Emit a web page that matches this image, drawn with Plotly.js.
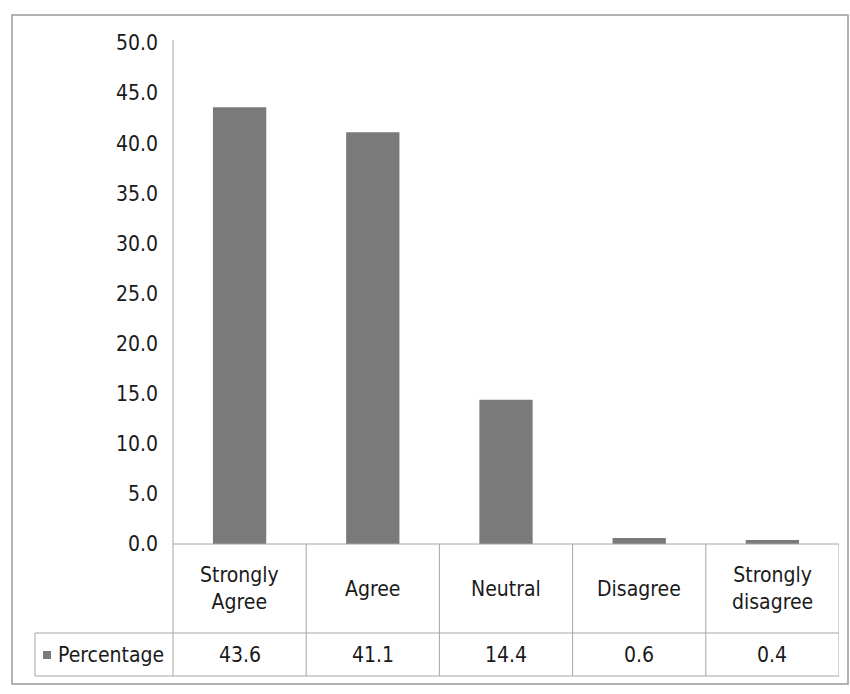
<!DOCTYPE html>
<html>
<head>
<meta charset="utf-8">
<script src="https://cdn.plot.ly/plotly-3.0.1.min.js"></script>
<style>
html,body{margin:0;padding:0;background:#fff;}
#chart{width:850px;height:694px;}
</style>
</head>
<body>
<div id="chart"></div>
<script>
// ---- data ----
var categories = ["Strongly Agree", "Agree", "Neutral", "Disagree", "Strongly disagree"];
var categoryLabels = ["Strongly<br>Agree", "Agree", "Neutral", "Disagree", "Strongly<br>disagree"];
var percentage = [43.6, 41.1, 14.4, 0.6, 0.4];
var seriesName = "Percentage";
var yTickValues = [0, 5, 10, 15, 20, 25, 30, 35, 40, 45, 50];

// ---- layout geometry (pixels) ----
var W = 850, H = 694;
var M = {l: 173, r: 11, t: 43, b: 150};
var plotW = W - M.l - M.r, plotH = H - M.t - M.b;
function px(x) { return (x - M.l) / plotW; }          // pixel x -> paper x
function py(y) { return (H - M.b - y) / plotH; }      // pixel y -> paper y

var FONT = "'Liberation Sans Narrow', 'Arial Narrow', 'DejaVu Sans Condensed', sans-serif";
var barColor = "#7a7a7a";
var lineColor = "#a6a6a6";

var tableTop = 544, rowDiv = 633, tableBottom = 676, legendLeft = 35;

var shapes = [];
function line(xref, x0, x1, y0, y1) {
  shapes.push({type: "line", xref: xref, yref: "paper", x0: x0, x1: x1, y0: y0, y1: y1,
    line: {color: lineColor, width: 1}});
}
// outer border
shapes.push({type: "rect", xref: "paper", yref: "paper", x0: px(12), x1: px(848), y0: py(684), y1: py(15),
  line: {color: "#9a9a9a", width: 1.5}, fillcolor: "rgba(0,0,0,0)"});
// y axis line
line("paper", 0, 0, py(40), py(tableBottom));
// table horizontal lines
line("paper", 0, 1, py(tableTop), py(tableTop));
line("paper", px(legendLeft), 1, py(rowDiv), py(rowDiv));
line("paper", px(legendLeft), 1, py(tableBottom), py(tableBottom));
// legend cell left edge
line("paper", px(legendLeft), px(legendLeft), py(rowDiv), py(tableBottom));
// column separators
for (var i = 0; i < categories.length; i++) {
  line("x", i + 0.5, i + 0.5, py(tableTop), py(tableBottom));
}
// legend key square
shapes.push({type: "rect", xref: "paper", yref: "paper", x0: px(43), x1: px(51), y0: py(659), y1: py(651),
  fillcolor: barColor, line: {width: 0}});

var annotations = [];
var rowMid1 = py((tableTop + rowDiv) / 2), rowMid2 = py((rowDiv + tableBottom) / 2);
for (var j = 0; j < categories.length; j++) {
  annotations.push({xref: "x", yref: "paper", x: categories[j], y: rowMid1, text: categoryLabels[j],
    showarrow: false, xanchor: "center", yanchor: "middle", font: {family: FONT, size: 21, color: "#1a1a1a"}});
  annotations.push({xref: "x", yref: "paper", x: categories[j], y: rowMid2, text: percentage[j].toFixed(1),
    showarrow: false, xanchor: "center", yanchor: "middle", font: {family: FONT, size: 21, color: "#1a1a1a"}});
}
annotations.push({xref: "paper", yref: "paper", x: px(56), y: rowMid2, text: seriesName,
  showarrow: false, xanchor: "left", yanchor: "middle", font: {family: FONT, size: 21, color: "#1a1a1a"}});

var trace = {
  type: "bar",
  x: categories,
  y: percentage,
  name: seriesName,
  marker: {color: barColor, line: {width: 0}},
  width: 0.4,
  hoverinfo: "x+y"
};

var layout = {
  width: W, height: H,
  margin: M,
  paper_bgcolor: "#ffffff",
  plot_bgcolor: "#ffffff",
  showlegend: false,
  xaxis: {type: "category", range: [-0.5, 4.5], showticklabels: false, showgrid: false, zeroline: false,
    showline: false, ticks: ""},
  yaxis: {range: [0, 50], tickvals: yTickValues, tickformat: ".1f", showgrid: false, zeroline: false,
    showline: false, ticks: "", ticklabelstandoff: 14,
    tickfont: {family: FONT, size: 21, color: "#1a1a1a"}},
  shapes: shapes,
  annotations: annotations
};

Plotly.newPlot("chart", [trace], layout, {displayModeBar: false, staticPlot: true});
</script>
</body>
</html>
